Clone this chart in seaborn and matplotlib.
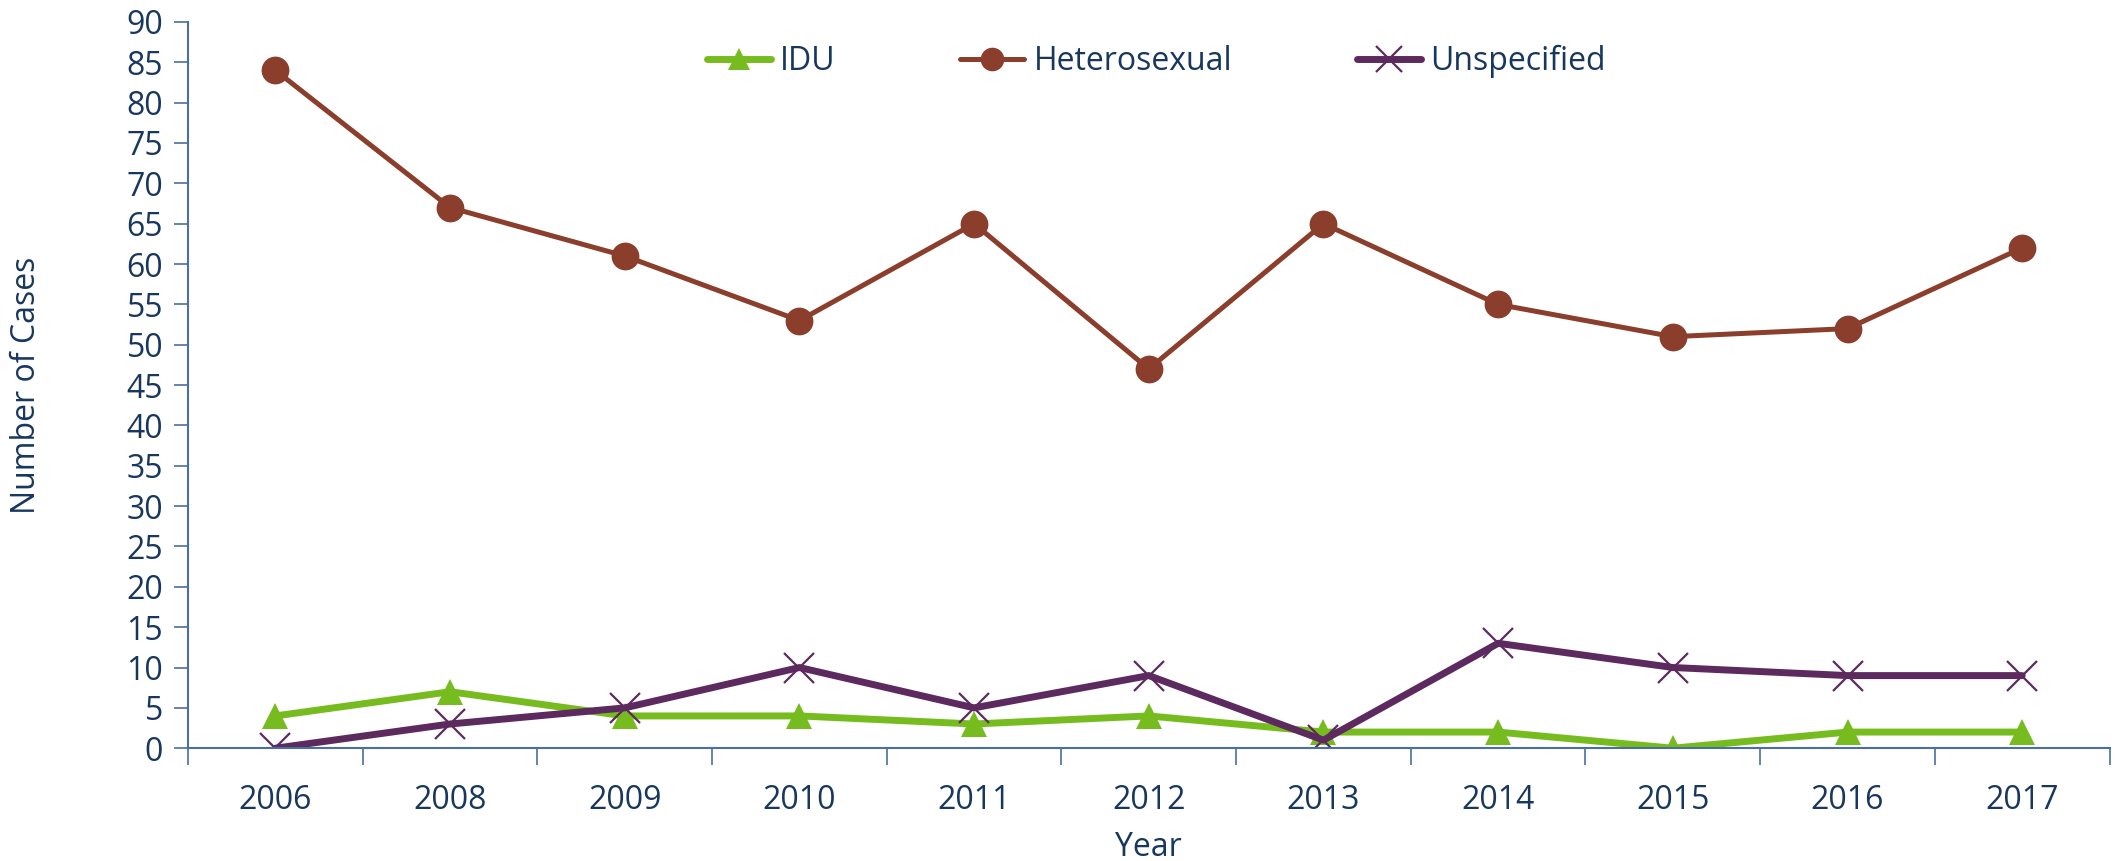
import numpy as np
import pandas as pd
import seaborn as sns
import matplotlib.pyplot as plt

years = ['2006', '2008', '2009', '2010', '2011', '2012', '2013', '2014', '2015', '2016', '2017']
idu = [4, 7, 4, 4, 3, 4, 2, 2, 0, 2, 2]
hetero = [84, 67, 61, 53, 65, 47, 65, 55, 51, 52, 62]
unspec = [0, 3, 5, 10, 5, 9, 1, 13, 10, 9, 9]

navy = '#17375E'
spine_col = '#4A6FA0'

sns.set_style('white')
plt.rcParams['font.family'] = ['Open Sans', 'DejaVu Sans']

pos = np.arange(len(years))
df = pd.DataFrame({'pos': pos, 'IDU': idu, 'Heterosexual': hetero, 'Unspecified': unspec})

fig = plt.figure(figsize=(21.18, 8.61), dpi=100)
ax = fig.add_axes([0.0888, 0.131, 0.9072, 0.8435])

sns.lineplot(data=df, x='pos', y='IDU', ax=ax, color='#77BC1F', lw=5,
             marker='^', markersize=19, markeredgewidth=0, label='IDU')
sns.lineplot(data=df, x='pos', y='Heterosexual', ax=ax, color='#8B3E2B', lw=3.6,
             marker='o', markersize=20, markeredgewidth=0, label='Heterosexual')
sns.lineplot(data=df, x='pos', y='Unspecified', ax=ax, color='#5C2A5E', lw=5,
             marker='x', markersize=22, markeredgewidth=1.6,
             markeredgecolor='#5C2A5E', label='Unspecified')

ax.set_xlim(-0.5, len(years) - 0.5)
ax.set_ylim(0, 90)
ax.set_yticks(np.arange(0, 91, 5))
ax.set_xticks(pos)
ax.set_xticklabels(years)
ax.set_xticks(np.arange(-0.5, len(years), 1), minor=True)
ax.tick_params(axis='x', which='major', length=0, pad=26, labelsize=23, labelcolor=navy)
ax.tick_params(axis='x', which='minor', length=12, width=1.2, color=spine_col, direction='out', bottom=True)
ax.tick_params(axis='y', length=10, width=1.2, color=spine_col, direction='out', left=True,
               labelsize=23, labelcolor=navy, pad=8)

for s in ['top', 'right']:
    ax.spines[s].set_visible(False)
for s in ['left', 'bottom']:
    ax.spines[s].set_color(spine_col)
    ax.spines[s].set_linewidth(1.5)

ax.set_xlabel('Year', fontsize=23, color=navy, labelpad=10)
ax.set_ylabel('Number of Cases', fontsize=23, color=navy, labelpad=60)

ax.legend(loc='center', bbox_to_anchor=(0.546, 0.929), bbox_transform=fig.transFigure,
          ncol=3, frameon=False, fontsize=23, labelcolor=navy, columnspacing=3.9,
          handlelength=2.0, handletextpad=0.3, markerscale=0.85)

fig.savefig('out.png', dpi=100)
